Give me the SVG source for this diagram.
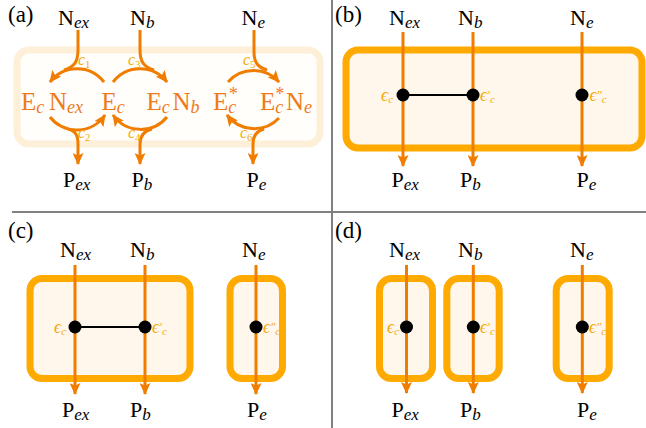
<svg xmlns="http://www.w3.org/2000/svg" width="646" height="428" viewBox="0 0 646 428">
<style>
.bg{fill:#fff}
.div{stroke:#808080;stroke-width:2;fill:none}
.ln{fill:none;stroke:#F07D00;stroke-width:3}
.box{fill:#FFF7EC;stroke:#FFAA00;stroke-width:7}
.abox{fill:#FFFEFB;stroke:#FEF0D8;stroke-width:7}
.dot{fill:#000}
.link{stroke:#000;stroke-width:2}
text{font-family:"Liberation Serif","DejaVu Serif",serif}
.lbl{font-size:22px;fill:#000}
.pl{font-size:23px;fill:#000}
.sub{font-size:17px;font-style:italic}
.otx{font-size:25px;fill:#EE7A1A}
.osub{font-size:18px;font-style:italic}
.cl{font-size:16px;font-style:italic;fill:#F3AA0A}
.cd{font-size:11px;font-style:normal}
.eps{font-size:18px;font-style:italic;fill:#F3AA0A}
.es{font-size:11px}
.pr{font-size:12px}
</style>
<defs>
<marker id="ah" viewBox="0 0 12 11" markerUnits="userSpaceOnUse" markerWidth="12" markerHeight="11" refX="11" refY="5.5" orient="auto">
<path d="M0,0 L12,5.5 L0,11 L2.5,5.5 z" fill="#F07D00"/>
</marker>
</defs>
<rect class="bg" x="0" y="0" width="646" height="428"/>

<g id="dividers">
<line class="div" x1="332" y1="0" x2="332" y2="428"/>
<line class="div" x1="12" y1="212" x2="646" y2="212"/>
</g>

<g id="panel-labels">
<text class="pl" x="8" y="22">(a)</text>
<text class="pl" x="335" y="22">(b)</text>
<text class="pl" x="8" y="238">(c)</text>
<text class="pl" x="335" y="238">(d)</text>
</g>

<!-- Panel (a) -->
<g id="a-box"><rect class="abox" x="17" y="50" width="303" height="94" rx="12"/></g>

<g id="a-species">
<text class="otx" x="21" y="110">E<tspan class="osub" dy="3">c</tspan><tspan x="49" dy="-3">N</tspan><tspan class="osub" dy="3">ex</tspan></text>
<text class="otx" x="101.5" y="110">E<tspan class="osub" dy="3">c</tspan></text>
<text class="otx" x="146.5" y="110">E<tspan class="osub" dy="3">c</tspan><tspan x="172.5" dy="-3">N</tspan><tspan class="osub" dy="3">b</tspan></text>
<text class="otx" x="213" y="110">E<tspan class="osub" dy="3">c</tspan><tspan class="osub" x="228" y="100" font-style="normal">*</tspan></text>
<text class="otx" x="260" y="110">E<tspan class="osub" dy="3">c</tspan><tspan class="osub" x="274.5" y="100" font-style="normal">*</tspan><tspan x="286" y="110">N</tspan><tspan class="osub" dy="3">e</tspan></text>
</g>

<g id="connectors">
<path class="ln" d="M78,30 V50 C78,62 74,67 64,70"/>
<path class="ln" d="M104,82 A34,34 0 0 0 50,82" marker-end="url(#ah)"/>
<path class="ln" d="M50,117 A34,34 0 0 0 105,115" marker-end="url(#ah)"/>
<path class="ln" d="M68,129 C76,131 78,136 78,144 V164" marker-end="url(#ah)"/>
<path class="ln" d="M140,30 V50 C140,62 144,67 154,70"/>
<path class="ln" d="M113,82 A34,34 0 0 1 167,82" marker-end="url(#ah)"/>
<path class="ln" d="M167,117 A34,34 0 0 1 113,115" marker-end="url(#ah)"/>
<path class="ln" d="M152,129 C144,131 140,136 140,144 V164" marker-end="url(#ah)"/>
<path class="ln" d="M254,30 V52 C254,63 258,67 267,70"/>
<path class="ln" d="M228,82 A34,34 0 0 1 279,82" marker-end="url(#ah)"/>
<path class="ln" d="M279,118 A34,34 0 0 1 227,115" marker-end="url(#ah)"/>
<path class="ln" d="M264,129 C256,131 253,136 253,144 V164" marker-end="url(#ah)"/>
</g>

<g id="a-rates">
<text class="cl" x="78" y="65">c<tspan class="cd" dy="3">1</tspan></text>
<text class="cl" x="78" y="138">c<tspan class="cd" dy="3">2</tspan></text>
<text class="cl" x="128" y="65">c<tspan class="cd" dy="3">3</tspan></text>
<text class="cl" x="128" y="138">c<tspan class="cd" dy="3">4</tspan></text>
<text class="cl" x="243" y="65">c<tspan class="cd" dy="3">5</tspan></text>
<text class="cl" x="240" y="138">c<tspan class="cd" dy="3">6</tspan></text>
</g>

<g id="a-labels">
<text class="lbl" x="58" y="25">N<tspan class="sub" dy="3">ex</tspan></text>
<text class="lbl" x="130" y="25">N<tspan class="sub" dy="3">b</tspan></text>
<text class="lbl" x="241.5" y="25">N<tspan class="sub" dy="3">e</tspan></text>
<text class="lbl" x="63" y="187">P<tspan class="sub" dy="3">ex</tspan></text>
<text class="lbl" x="131.5" y="187">P<tspan class="sub" dy="3">b</tspan></text>
<text class="lbl" x="246.5" y="187">P<tspan class="sub" dy="3">e</tspan></text>
</g>

<!-- Panel (b) -->
<g id="b-box"><rect class="box" x="346" y="50" width="296" height="98" rx="12"/></g>
<g id="b-edges">
<line class="ln" x1="403" y1="32" x2="403" y2="166" marker-end="url(#ah)"/>
<line class="ln" x1="473" y1="32" x2="473" y2="166" marker-end="url(#ah)"/>
<line class="ln" x1="582" y1="32" x2="582" y2="166" marker-end="url(#ah)"/>
<line class="link" x1="403" y1="95" x2="473" y2="95"/>
</g>
<g id="b-nodes">
<circle class="dot" cx="403" cy="95" r="6.5"/>
<circle class="dot" cx="473" cy="95" r="6.5"/>
<circle class="dot" cx="582" cy="95" r="6.5"/>
<text class="eps" x="381" y="101">ϵ<tspan class="es" dy="2">c</tspan></text>
<text class="eps" x="480" y="101">ϵ<tspan class="pr" dy="-2">′</tspan><tspan class="es" dy="4">c</tspan></text>
<text class="eps" x="589.5" y="101">ϵ<tspan class="pr" dy="-2">″</tspan><tspan class="es" dy="4">c</tspan></text>
</g>
<g id="b-labels">
<text class="lbl" x="389" y="25">N<tspan class="sub" dy="3">ex</tspan></text>
<text class="lbl" x="458" y="25">N<tspan class="sub" dy="3">b</tspan></text>
<text class="lbl" x="570" y="25">N<tspan class="sub" dy="3">e</tspan></text>
<text class="lbl" x="391.5" y="187">P<tspan class="sub" dy="3">ex</tspan></text>
<text class="lbl" x="460" y="187">P<tspan class="sub" dy="3">b</tspan></text>
<text class="lbl" x="576.5" y="187">P<tspan class="sub" dy="3">e</tspan></text>
</g>

<!-- Panel (c) -->
<g id="c-box1"><rect class="box" x="30" y="278.5" width="160" height="100" rx="12"/></g>
<g id="c-box2"><rect class="box" x="230" y="278.5" width="52.5" height="100" rx="12"/></g>
<g id="c-edges">
<line class="ln" x1="75" y1="265" x2="75" y2="394" marker-end="url(#ah)"/>
<line class="ln" x1="145" y1="265" x2="145" y2="394" marker-end="url(#ah)"/>
<line class="ln" x1="256" y1="265" x2="256" y2="394" marker-end="url(#ah)"/>
<line class="link" x1="75" y1="327" x2="145" y2="327"/>
</g>
<g id="c-nodes">
<circle class="dot" cx="75" cy="327" r="6.5"/>
<circle class="dot" cx="145" cy="327" r="6.5"/>
<circle class="dot" cx="256" cy="327" r="6.5"/>
<text class="eps" x="54" y="333">ϵ<tspan class="es" dy="2">c</tspan></text>
<text class="eps" x="152" y="333">ϵ<tspan class="pr" dy="-2">′</tspan><tspan class="es" dy="4">c</tspan></text>
<text class="eps" x="263" y="333">ϵ<tspan class="pr" dy="-2">″</tspan><tspan class="es" dy="4">c</tspan></text>
</g>
<g id="c-labels">
<text class="lbl" x="60" y="257">N<tspan class="sub" dy="3">ex</tspan></text>
<text class="lbl" x="130" y="257">N<tspan class="sub" dy="3">b</tspan></text>
<text class="lbl" x="242" y="257">N<tspan class="sub" dy="3">e</tspan></text>
<text class="lbl" x="62" y="417">P<tspan class="sub" dy="3">ex</tspan></text>
<text class="lbl" x="130" y="417">P<tspan class="sub" dy="3">b</tspan></text>
<text class="lbl" x="247" y="417">P<tspan class="sub" dy="3">e</tspan></text>
</g>

<!-- Panel (d) -->
<g id="d-box1"><rect class="box" x="379.5" y="278.5" width="53" height="100" rx="12"/></g>
<g id="d-box2"><rect class="box" x="446.8" y="278.5" width="52.4" height="100" rx="12"/></g>
<g id="d-box3"><rect class="box" x="556.2" y="278.5" width="53" height="100" rx="12"/></g>
<g id="d-edges">
<line class="ln" x1="406.5" y1="265" x2="406.5" y2="393" marker-end="url(#ah)"/>
<line class="ln" x1="473.3" y1="265" x2="473.3" y2="393" marker-end="url(#ah)"/>
<line class="ln" x1="582.3" y1="265" x2="582.3" y2="393" marker-end="url(#ah)"/>
</g>
<g id="d-nodes">
<circle class="dot" cx="406.5" cy="327" r="6.5"/>
<circle class="dot" cx="473.3" cy="327" r="6.5"/>
<circle class="dot" cx="582.3" cy="327" r="6.5"/>
<text class="eps" x="387" y="333">ϵ<tspan class="es" dy="2">c</tspan></text>
<text class="eps" x="480" y="333">ϵ<tspan class="pr" dy="-2">′</tspan><tspan class="es" dy="4">c</tspan></text>
<text class="eps" x="589" y="333">ϵ<tspan class="pr" dy="-2">″</tspan><tspan class="es" dy="4">c</tspan></text>
</g>
<g id="d-labels">
<text class="lbl" x="389" y="257">N<tspan class="sub" dy="3">ex</tspan></text>
<text class="lbl" x="458" y="257">N<tspan class="sub" dy="3">b</tspan></text>
<text class="lbl" x="570" y="257">N<tspan class="sub" dy="3">e</tspan></text>
<text class="lbl" x="391.5" y="417">P<tspan class="sub" dy="3">ex</tspan></text>
<text class="lbl" x="460" y="417">P<tspan class="sub" dy="3">b</tspan></text>
<text class="lbl" x="577" y="417">P<tspan class="sub" dy="3">e</tspan></text>
</g>
</svg>
